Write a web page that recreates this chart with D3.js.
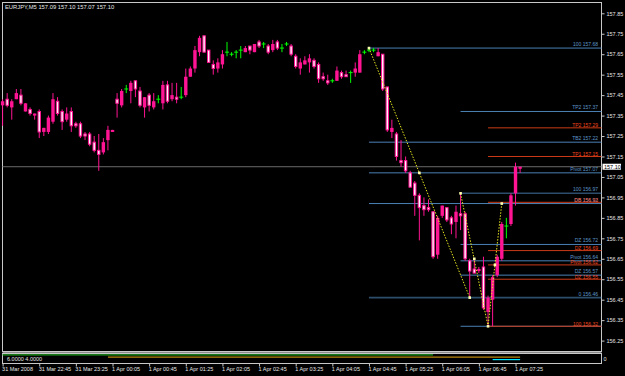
<!DOCTYPE html>
<html>
<head>
<meta charset="utf-8">
<script src="https://cdn.jsdelivr.net/npm/d3@7"></script>
<style>
html, body { margin: 0; padding: 0; background: #000; }
svg { display: block; }
text { font-family: "Liberation Sans", Arial, sans-serif; }
</style>
</head>
<body>
<div id="wrapper"></div>
<script>
// EURJPY M5, one bar every 5 minutes from 31 Mar 2008 22:05
const opens = [157.40,157.43,157.39,157.43,157.45,157.37,157.38,157.35,157.37,157.27,
  157.27,157.32,157.42,157.37,157.33,157.37,157.31,157.31,157.26,157.26,
  157.22,157.18,157.17,157.23,157.27,157.43,157.40,157.48,157.47,157.52,
  157.47,157.39,157.45,157.39,157.43,157.41,157.50,157.43,157.44,157.44,
  157.45,157.54,157.58,157.66,157.74,157.67,157.60,157.58,157.60,157.66,
  157.65,157.66,157.67,157.66,157.69,157.66,157.71,157.70,157.69,157.67,
  157.71,157.68,157.70,157.69,157.64,157.58,157.60,157.61,157.62,157.60,
  157.54,157.52,157.52,157.52,157.56,157.55,157.56,157.56,157.56,157.66,
  157.67,157.67,157.64,157.65,157.49,157.27,157.26,157.13,157.13,157.07,
  157.02,156.96,156.91,156.90,156.88,156.67,156.86,156.90,156.85,156.83,
  156.87,156.87,156.64,156.60,156.59,156.61,156.39,156.45,156.57,156.65,
  156.81,156.82,156.97,157.09]
const highs = [157.43,157.46,157.43,157.48,157.48,157.41,157.39,157.36,157.38,157.29,
  157.35,157.46,157.44,157.38,157.39,157.39,157.32,157.32,157.27,157.27,
  157.25,157.26,157.24,157.30,157.28,157.46,157.48,157.50,157.52,157.52,
  157.49,157.44,157.46,157.46,157.45,157.52,157.52,157.51,157.51,157.49,
  157.58,157.59,157.69,157.74,157.74,157.67,157.62,157.63,157.67,157.71,
  157.66,157.67,157.69,157.69,157.69,157.70,157.72,157.71,157.70,157.72,
  157.72,157.70,157.71,157.70,157.65,157.63,157.64,157.65,157.63,157.61,
  157.56,157.55,157.53,157.59,157.57,157.57,157.57,157.61,157.67,157.67,
  157.68,157.68,157.68,157.65,157.49,157.33,157.27,157.23,157.15,157.08,
  157.03,156.97,156.95,156.94,156.88,156.86,156.91,156.90,156.86,156.91,
  156.97,156.88,156.65,156.65,156.61,156.66,156.47,156.57,156.67,156.83,
  156.85,156.97,157.12,157.10]
const lows = [157.30,157.39,157.33,157.43,157.40,157.37,157.35,157.33,157.24,157.25,
  157.26,157.31,157.35,157.28,157.32,157.27,157.29,157.24,157.23,157.20,
  157.17,157.08,157.16,157.18,157.27,157.34,157.39,157.46,157.41,157.44,
  157.39,157.34,157.37,157.38,157.41,157.38,157.41,157.42,157.41,157.43,
  157.44,157.54,157.56,157.64,157.66,157.61,157.55,157.56,157.58,157.64,
  157.64,157.63,157.63,157.66,157.65,157.66,157.68,157.68,157.65,157.66,
  157.67,157.66,157.69,157.64,157.58,157.55,157.60,157.56,157.58,157.51,
  157.52,157.50,157.51,157.52,157.53,157.54,157.51,157.54,157.56,157.65,
  157.66,157.66,157.64,157.47,157.27,157.24,157.13,157.10,157.07,157.00,
  156.86,156.74,156.86,156.88,156.65,156.65,156.85,156.83,156.77,156.75,
  156.79,156.64,156.46,156.58,156.58,156.40,156.32,156.32,156.56,156.64,
  156.75,156.81,156.91,157.07]
const closes = [157.42,157.40,157.42,157.46,157.41,157.41,157.36,157.36,157.27,157.29,
  157.34,157.43,157.36,157.32,157.36,157.30,157.30,157.25,157.25,157.21,
  157.18,157.16,157.22,157.28,157.28,157.41,157.47,157.48,157.51,157.48,
  157.40,157.44,157.40,157.42,157.43,157.50,157.42,157.45,157.43,157.44,
  157.54,157.58,157.67,157.73,157.66,157.61,157.58,157.61,157.65,157.66,
  157.65,157.66,157.67,157.68,157.67,157.70,157.69,157.70,157.66,157.70,
  157.68,157.68,157.70,157.65,157.59,157.61,157.62,157.63,157.59,157.53,
  157.53,157.51,157.52,157.57,157.54,157.54,157.56,157.58,157.65,157.66,
  157.67,157.67,157.66,157.48,157.28,157.29,157.15,157.12,157.08,157.00,
  156.96,156.90,156.89,156.89,156.66,156.85,156.91,156.84,156.82,156.88,
  156.86,156.65,156.59,156.58,156.60,156.41,156.46,156.56,156.66,156.82,
  156.81,156.96,157.10,157.10]

const priceTicks = [157.85,157.75,157.65,157.55,157.45,157.35,157.25,157.15,157.05,156.95,156.85,156.75,156.65,156.55,156.45,156.35,156.25]
const timeTickBars = [0,8,16,24,32,40,48,56,64,72,80,88,96,104,112]
const timeLabels = ['31 Mar 2008','31 Mar 22:45','31 Mar 23:25','1 Apr 00:05','1 Apr 00:45','1 Apr 01:25',
  '1 Apr 02:05','1 Apr 02:45','1 Apr 03:25','1 Apr 04:05','1 Apr 04:45','1 Apr 05:25','1 Apr 06:05','1 Apr 06:45','1 Apr 07:25']

// zigzag legs (bar index, price)
const zigzagA = [[80,157.68],[102,156.46]]
const zigzagB = [[100,156.97],[106,156.32],[109,156.92]]
const zigzagMarks = [[80,157.68],[91,157.07],[102,156.46],[100,156.97],[103,156.65],[106,156.32],[107.5,156.62],[109,156.92]]

// level lines drawn from a start bar to the right edge
const blueLevels = [157.68,157.37,157.22,157.07,156.97,156.92,156.72,156.64,156.57,156.46,156.32]
const blueNames = ['100','TP2','TB2','Pivot','100','DB','DZ','Pivot','DZ','0','']
const blueStart = [80,100,80,80,100,80,100,100,100,80,100]
const redLevels = [157.29,157.15,156.926,156.69,156.62,156.55,156.32]
const redNames = ['TP2','TP1','DB','DZ','Pivot','DZ','100']
const redStart = [106,106,106,106,106,106,106]

// indicator sub window: value and bar span of each line
const subValues = [6,4,2]
const subFrom = [0,23,107]
const subTo = [94,113,113]
const subText = '6.0000 4.0000'

const width = 625
const height = 376
const frame = { left: 2.5, top: 2.5, right: 601.5, mainBottom: 351.5, subTop: 353.5, subBottom: 363.5 }

const svg = d3.select('#wrapper')
  .append('svg')
  .attr('width', width)
  .attr('height', height)
  .style('background-color', '#000')

const scaleX = d3.scaleLinear().domain([0, 113]).range([2.6, 520.1])
const scaleY = d3.scaleLinear().domain([156.25, 157.85]).range([340.6, 13.3])
const scaleSub = d3.scaleLinear().domain([0, 7]).range([362, 353.6])

const fmt = d3.format('.2f')
const bars = opens.map((o, i) => ({ i, o, h: highs[i], l: lows[i], c: closes[i] }))

const pink = '#ff1493'
const green = '#00ff00'
const blue = '#4a80b4'
const red = '#cc3a16'

// frame
svg.append('rect')
  .attr('x', frame.left).attr('y', frame.top)
  .attr('width', frame.right - frame.left).attr('height', frame.mainBottom - frame.top)
  .attr('fill', 'none').attr('stroke', '#c8c8c8')
svg.append('rect')
  .attr('x', frame.left).attr('y', frame.mainBottom + 0.5)
  .attr('width', frame.right - frame.left).attr('height', 1.5)
  .attr('fill', '#8a8a8a')
svg.append('rect')
  .attr('x', frame.left).attr('y', frame.subTop)
  .attr('width', frame.right - frame.left).attr('height', frame.subBottom - frame.subTop)
  .attr('fill', 'none').attr('stroke', '#c8c8c8')

// bid line
const lastClose = closes[closes.length - 1]
svg.append('line')
  .attr('x1', frame.left).attr('x2', frame.right)
  .attr('y1', scaleY(lastClose)).attr('y2', scaleY(lastClose))
  .attr('stroke', '#6a6a6a')

// level lines
const levels = [
  ...blueLevels.map((p, k) => ({ p, name: blueNames[k], start: blueStart[k], color: blue, textColor: '#5f96c8', lift: 2 })),
  ...redLevels.map((p, k) => ({ p, name: redNames[k], start: redStart[k], color: red, textColor: '#f0461e', lift: 0.6 })),
]
const isBase = d => d.name === '0' || (d.name === '100' && d.start === 100)
const levelGroup = svg.append('g')
levelGroup.selectAll('line')
  .data(levels)
  .join('line')
  .attr('x1', d => scaleX(d.start))
  .attr('x2', frame.right)
  .attr('y1', d => scaleY(d.p))
  .attr('y2', d => scaleY(d.p))
  .attr('stroke', d => d.color)
  .attr('stroke-width', d => isBase(d) ? 1.6 : 1)
  .attr('stroke-opacity', d => isBase(d) ? 0.6 : 1)
levelGroup.selectAll('text')
  .data(levels.filter(d => d.name !== ''))
  .join('text')
  .attr('x', 598)
  .attr('y', d => scaleY(d.p) - d.lift)
  .attr('text-anchor', 'end')
  .attr('fill', d => d.textColor)
  .style('font-size', '5px')
  .text(d => `${d.name}  ${fmt(d.p)}`)

// candles
const candleGroup = svg.append('g')
const up = bars.filter(d => d.c > d.o)
const down = bars.filter(d => d.c < d.o)
const doji = bars.filter(d => d.c === d.o)

candleGroup.selectAll('line.wick')
  .data(up.concat(down))
  .join('line')
  .attr('class', 'wick')
  .attr('x1', d => scaleX(d.i)).attr('x2', d => scaleX(d.i))
  .attr('y1', d => scaleY(d.h)).attr('y2', d => scaleY(d.l))
  .attr('stroke', pink)

candleGroup.selectAll('rect.up')
  .data(up)
  .join('rect')
  .attr('class', 'up')
  .attr('x', d => scaleX(d.i) - 1.7)
  .attr('width', 3.4)
  .attr('y', d => scaleY(d.c))
  .attr('height', d => Math.max(1, scaleY(d.o) - scaleY(d.c)))
  .attr('fill', pink)

candleGroup.selectAll('rect.down')
  .data(down)
  .join('rect')
  .attr('class', 'down')
  .attr('x', d => scaleX(d.i) - 1.2)
  .attr('width', 2.4)
  .attr('y', d => scaleY(d.o))
  .attr('height', d => Math.max(0.5, scaleY(d.c) - scaleY(d.o)))
  .attr('fill', '#fff2fa')
  .attr('stroke', pink)
  .attr('stroke-width', 1)

const dojiGroups = candleGroup.selectAll('g.doji')
  .data(doji)
  .join('g')
  .attr('class', 'doji')
dojiGroups.append('line')
  .attr('x1', d => scaleX(d.i)).attr('x2', d => scaleX(d.i))
  .attr('y1', d => scaleY(d.h)).attr('y2', d => scaleY(d.l))
  .attr('stroke', green)
dojiGroups.append('line')
  .attr('x1', d => scaleX(d.i) - 2).attr('x2', d => scaleX(d.i) + 2)
  .attr('y1', d => scaleY(d.o)).attr('y2', d => scaleY(d.o))
  .attr('stroke', green)

// zigzag
const zz = d3.line().x(d => scaleX(d[0])).y(d => scaleY(d[1]))
svg.selectAll('path.zz')
  .data([zigzagA, zigzagB])
  .join('path')
  .attr('class', 'zz')
  .attr('d', zz)
  .attr('fill', 'none')
  .attr('stroke', '#e8e820')
  .attr('stroke-width', 1)
  .attr('stroke-dasharray', '1.5,1.5')
svg.selectAll('rect.mark')
  .data(zigzagMarks)
  .join('rect')
  .attr('class', 'mark')
  .attr('x', d => scaleX(d[0]) - 1.3)
  .attr('y', d => scaleY(d[1]) - 1.3)
  .attr('width', 2.6).attr('height', 2.6)
  .attr('fill', '#ffffb0')

// price axis
const yAxis = d3.axisRight(scaleY)
  .tickValues(priceTicks)
  .tickSize(3)
  .tickPadding(2)
  .tickFormat(fmt)
const yAxisG = svg.append('g')
  .attr('transform', `translate(${frame.right}, 0)`)
  .call(yAxis)
yAxisG.select('.domain').remove()
yAxisG.selectAll('line').attr('stroke', '#c8c8c8')
yAxisG.selectAll('text').attr('fill', '#e6e6e6').style('font-size', '5.5px')

// current price box
const boxY = scaleY(lastClose)
svg.append('rect')
  .attr('x', 602.5).attr('y', boxY - 3)
  .attr('width', 18.5).attr('height', 6)
  .attr('fill', '#fff')
svg.append('text')
  .attr('x', 604).attr('y', boxY + 2)
  .attr('fill', '#000')
  .style('font-size', '5.5px')
  .text(fmt(lastClose))

// time axis
const xAxis = d3.axisBottom(scaleX)
  .tickValues(timeTickBars)
  .tickSize(3)
  .tickPadding(1)
  .tickFormat((d, k) => timeLabels[k])
const xAxisG = svg.append('g')
  .attr('transform', `translate(0, ${frame.subBottom})`)
  .call(xAxis)
xAxisG.select('.domain').remove()
xAxisG.selectAll('line').attr('stroke', '#c8c8c8')
xAxisG.selectAll('text')
  .attr('text-anchor', 'start')
  .attr('dx', -1)
  .attr('fill', '#e6e6e6')
  .style('font-size', '5.5px')

// sub window indicator lines
const subColors = ['#1fa01f', '#b8860b', '#00e5ff']
svg.append('g').selectAll('line')
  .data(subValues)
  .join('line')
  .attr('x1', (d, k) => Math.max(frame.left, scaleX(subFrom[k])))
  .attr('x2', (d, k) => scaleX(subTo[k]))
  .attr('y1', d => scaleSub(d))
  .attr('y2', d => scaleSub(d))
  .attr('stroke', (d, k) => subColors[k])
  .attr('stroke-width', 1.2)
svg.append('text')
  .attr('x', 7).attr('y', 360.5)
  .attr('fill', '#e6e6e6')
  .style('font-size', '5.5px')
  .text(subText)
svg.append('text')
  .attr('x', 603.5).attr('y', 360.5)
  .attr('fill', '#e6e6e6')
  .style('font-size', '5.5px')
  .text('0')

// header
const last = bars[bars.length - 1]
svg.append('text')
  .attr('x', 5).attr('y', 8.8)
  .attr('fill', '#e6e6e6')
  .style('font-size', '5.8px')
  .text(`EURJPY,M5  ${fmt(last.o)} ${fmt(last.h)} ${fmt(last.l)} ${fmt(last.c)}`)
</script>
</body>
</html>
